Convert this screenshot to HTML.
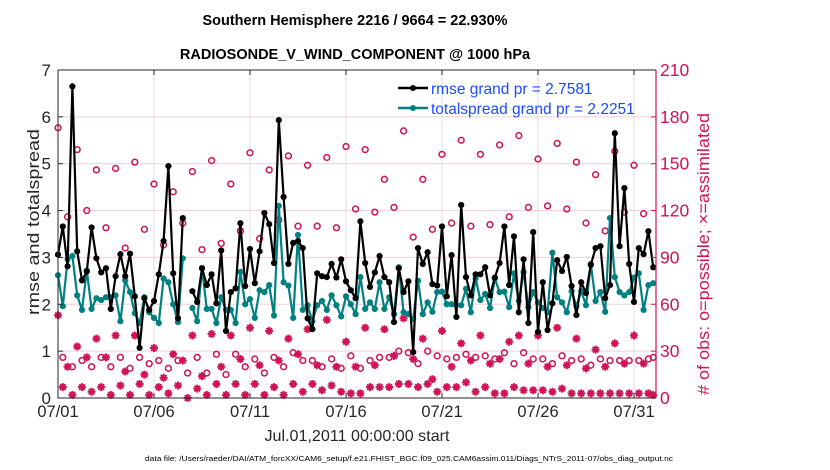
<!DOCTYPE html>
<html><head><meta charset="utf-8"><style>
html,body{margin:0;padding:0;background:#fff;width:830px;height:470px;overflow:hidden}
svg{display:block;font-family:"Liberation Sans",Arial,sans-serif}
</style></head><body>
<svg id="chart" width="830" height="470" viewBox="0 0 830 470">
<text x="355" y="25" text-anchor="middle" font-size="14.5" font-weight="bold">Southern Hemisphere 2216 / 9664 = 22.930%</text>
<text x="355" y="59" text-anchor="middle" font-size="14.5" font-weight="bold">RADIOSONDE_V_WIND_COMPONENT @ 1000 hPa</text>
<g id="grid"></g>
<g id="marks"></g>
<g id="axes"></g>
<text transform="translate(39,222) rotate(-90)" text-anchor="middle" font-size="17" textLength="186" lengthAdjust="spacingAndGlyphs" fill="#262626">rmse and totalspread</text>
<text transform="translate(709,254) rotate(-90)" text-anchor="middle" font-size="17" textLength="282" lengthAdjust="spacingAndGlyphs" fill="#d01257"># of obs: o=possible; ×=assimilated</text>
<text x="357" y="441" text-anchor="middle" font-size="16" textLength="185" lengthAdjust="spacingAndGlyphs" fill="#262626">Jul.01,2011 00:00:00 start</text>
<text x="145" y="461" font-size="7.5" textLength="528" lengthAdjust="spacingAndGlyphs" fill="#000">data file: /Users/raeder/DAI/ATM_forcXX/CAM6_setup/f.e21.FHIST_BGC.f09_025.CAM6assim.011/Diags_NTrS_2011-07/obs_diag_output.nc</text>
<g>
<g>
<line x1="398" y1="88" x2="428" y2="88" stroke="#000" stroke-width="2.5"/><circle cx="413" cy="88" r="3" fill="#000"/>
<text x="431" y="94" font-size="15.5" fill="#1a4cff">rmse grand pr = 2.7581</text></g>
<g>
<line x1="398" y1="108" x2="428" y2="108" stroke="#008080" stroke-width="2.5"/><circle cx="413" cy="108" r="3" fill="#008080"/>
<text x="431" y="114" font-size="15.5" fill="#1a4cff">totalspread grand pr = 2.2251</text></g>
</g>
</svg>
<script>
const rmse=[3.06,3.66,2.81,6.65,3.13,2.51,2.70,3.64,2.98,2.68,2.77,1.90,2.60,3.07,2.60,3.08,2.17,1.07,2.13,1.88,2.07,2.64,3.35,4.95,2.66,1.70,3.84,null,2.28,2.05,
2.77,2.41,2.64,2.02,3.15,1.43,2.26,2.34,3.73,2.39,3.18,2.45,3.13,3.95,3.71,2.88,5.93,4.29,2.86,3.31,3.35,3.20,1.70,1.47,2.66,2.60,2.58,2.86,2.57,2.96,2.49,2.30,
2.13,3.77,2.88,2.37,2.68,3.03,2.58,2.47,1.62,2.77,2.26,2.49,0.98,3.20,2.86,3.11,2.43,2.40,3.66,2.17,3.05,1.73,4.12,2.58,2.19,2.64,2.64,2.79,2.19,2.57,2.88,
3.66,2.41,3.45,1.83,2.96,1.60,3.54,1.41,2.47,1.45,2.02,2.94,2.71,3.01,2.39,1.77,2.47,2.24,2.84,3.20,3.24,2.13,2.41,5.65,3.24,4.48,2.86,2.05,3.20,3.07,3.56,2.79];
const spread=[2.62,1.96,2.96,3.03,2.19,1.88,2.72,1.90,2.13,2.09,2.15,2.15,2.19,1.64,2.51,2.26,1.81,1.60,2.15,1.83,1.71,1.60,2.55,2.47,2.00,1.62,2.98,null,1.92,1.64,
2.77,1.90,1.90,1.60,2.15,1.88,1.88,1.60,2.69,2.00,2.11,1.71,2.30,2.26,2.41,1.76,4.10,2.47,2.40,1.71,3.48,1.88,1.98,1.64,1.98,2.07,1.88,2.19,1.98,1.74,2.17,2.00,
1.79,2.58,1.90,2.04,1.90,2.47,1.90,2.15,1.79,2.79,1.83,1.79,1.69,2.50,1.79,2.04,1.84,2.26,2.27,2.00,2.00,1.98,1.98,2.33,1.83,2.55,2.09,2.22,1.92,2.55,2.26,
2.27,1.94,2.66,2.07,2.69,1.94,2.26,2.04,1.92,1.83,3.10,2.15,2.04,1.83,2.28,1.96,2.28,1.98,2.86,2.07,2.26,1.84,3.84,2.58,2.26,2.19,2.26,2.57,2.66,1.88,2.41,2.45];
const possible=[173,26,116,20,159,24,120,20,146,26,109,20,147,26,96,19,151,26,108,22,137,24,98,19,132,24,112,16,145,26,
95,16,152,28,99,15,137,28,107,20,157,25,102,16,146,26,114,20,155,29,110,24,149,24,110,20,154,25,109,19,161,27,
121,19,159,24,119,26,140,26,122,30,171,29,103,22,140,30,108,27,156,25,112,26,165,28,110,26,156,27,111,25,162,
29,116,22,168,29,122,25,153,25,123,22,163,27,121,24,151,25,112,21,143,25,107,24,158,24,119,24,149,24,118,25,26];
const assimilated=[53,7,20,2,33,7,26,4,38,7,26,2,40,8,17,2,40,9,15,2,32,7,13,3,28,8,24,0,40,6,
14,2,41,9,20,2,40,9,25,2,45,9,21,2,43,7,24,2,38,9,28,4,44,9,21,5,50,8,20,4,36,3,
20,3,45,7,21,7,44,7,27,9,51,9,25,7,38,9,12,4,43,7,20,7,35,10,24,4,40,7,22,3,25,
3,36,7,40,5,22,5,40,5,20,4,45,6,21,3,38,3,19,3,31,3,20,3,35,3,22,3,40,3,22,3,2];
const leftTicks=[0,1,2,3,4,5,6,7];
const rightTicks=[0,30,60,90,120,150,180,210];
const dateTicks=["07/01","07/06","07/11","07/16","07/21","07/26","07/31"];
const dateTickDays=[0,5,10,15,20,25,30];

const X0=58,X1=656,Y0=398,Y1=70;
const stepsPerDay=4, dayPx=19.2;
function xOfStep(i){return X0+i*dayPx/stepsPerDay;}
function xOfDay(d){return X0+d*dayPx;}
function yL(v){return Y0-v*(Y0-Y1)/7;}
function yR(v){return Y0-v*(Y0-Y1)/210;}
const NS="http://www.w3.org/2000/svg";
function mk(tag,attrs,parent){const e=document.createElementNS(NS,tag);for(const k in attrs)e.setAttribute(k,attrs[k]);parent.appendChild(e);return e;}
const grid=document.getElementById('grid'),marks=document.getElementById('marks'),axes=document.getElementById('axes');
const crimson="#d01257";

leftTicks.forEach((t,k)=>{
  if(t>0&&t<7){const g=mk('line',{x1:X0,x2:X1,y1:yL(t),y2:yL(t),stroke:"#f3cddb","stroke-width":1},grid);
  
  }
  const tl=mk('text',{x:X0-7,y:yL(t)+6,"text-anchor":"end","font-size":17,fill:"#262626"},axes);tl.textContent=t;
  
  
  mk('line',{x1:X0,x2:X0+5,y1:yL(t),y2:yL(t),stroke:"#262626"},axes);
});
rightTicks.forEach(t=>{
  const tl=mk('text',{x:X1+4,y:yR(t)+6,"font-size":17.5,fill:crimson},axes);tl.textContent=t;
  
  
  mk('line',{x1:X1-5,x2:X1,y1:yR(t),y2:yR(t),stroke:crimson},axes);
});
dateTicks.forEach((lab,k)=>{
  const x=xOfDay(dateTickDays[k]);
  if(k>0){const g=mk('line',{x1:x,x2:x,y1:Y1,y2:Y0,stroke:"#dcdcdc","stroke-width":1},grid);
  
  }
  mk('line',{x1:x,x2:x,y1:Y0,y2:Y0-5,stroke:"#262626"},axes);
  mk('line',{x1:x,x2:x,y1:Y1,y2:Y1+5,stroke:"#262626"},axes);
  const tl=mk('text',{x:x,y:Y0+19,"text-anchor":"middle","font-size":16.5,fill:"#262626"},axes);tl.textContent=lab;
  
  
});
const fr=mk('path',{d:`M${X0},${Y1}H${X1}M${X0},${Y1}V${Y0}H${X1}`,fill:"none",stroke:"#262626","stroke-width":1},axes);


const ra=mk('line',{x1:X1,x2:X1,y1:Y1,y2:Y0,stroke:crimson,"stroke-width":1.2},axes);



possible.forEach((v,i)=>{if(v==null)return;
  const c=mk('circle',{cx:xOfStep(i),cy:yR(v),r:2.9,fill:"none",stroke:crimson,"stroke-width":1.5},marks);
  
  
});
assimilated.forEach((v,i)=>{if(v==null)return;
  const x=xOfStep(i),y=yR(v),r=4;
  const g=mk('path',{d:`M${x-r},${y}H${x+r}M${x},${y-r}V${y+r}M${x-r*.7},${y-r*.7}L${x+r*.7},${y+r*.7}M${x-r*.7},${y+r*.7}L${x+r*.7},${y-r*.7}`,stroke:crimson,"stroke-width":2,fill:"none"},marks);
  
  
});
function series(arr,color,name){
  let d="",pen=false;
  arr.forEach((v,i)=>{if(v==null){pen=false;return;}d+=(pen?"L":"M")+xOfStep(i).toFixed(1)+","+yL(v).toFixed(1);pen=true;});
  const p=mk('path',{d:d,fill:"none",stroke:color,"stroke-width":2.2,"stroke-linejoin":"round"},marks);
  
  
  arr.forEach((v,i)=>{if(v==null)return;
    const c=mk('circle',{cx:xOfStep(i),cy:yL(v),r:3.1,fill:color},marks);
    
    
  });
}
series(spread,"#008080","totalspread");
series(rmse,"#000000","rmse");
</script>
</body></html>
